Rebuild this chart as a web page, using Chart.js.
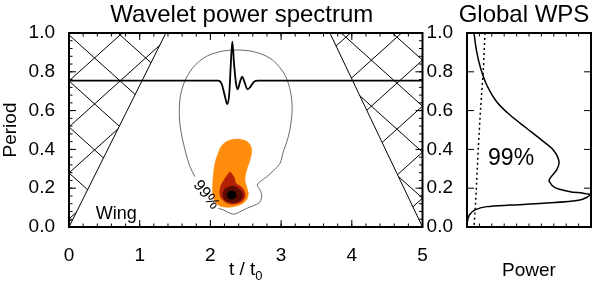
<!DOCTYPE html>
<html><head><meta charset="utf-8">
<script src="https://cdn.jsdelivr.net/npm/chart.js@4.4.1/dist/chart.umd.min.js"></script>
<style>
html,body{margin:0;padding:0;background:#fff;width:600px;height:283px;overflow:hidden}
#wps{position:absolute;left:0;top:0}
#glob{position:absolute;left:425px;top:0}
</style></head><body>
<canvas id="wps" width="440" height="283"></canvas>
<canvas id="glob" width="175" height="283"></canvas>
<script>
// ticks
const xTicks = [0, 1, 2, 3, 4, 5];
const yTicks = [0, 0.2, 0.4, 0.6, 0.8, 1.0];

// cone of influence edges (t, period)
const coiLeftT = [0, 1.37];
const coiLeftP = [0, 1.0];
const coiRightT = [3.69, 5];
const coiRightP = [1.0, 0];

// wavelet signal overlaid on the spectrum
const signalT = [0, 2.112, 2.160, 2.207, 2.239, 2.267, 2.287, 2.310, 2.334, 2.362, 2.386, 2.419, 2.451, 2.480, 2.527, 2.560, 2.617, 2.678, 5];
const signalV = [0.754, 0.754, 0.737, 0.672, 0.634, 0.689, 0.826, 0.955, 0.844, 0.741, 0.710, 0.749, 0.775, 0.749, 0.710, 0.720, 0.749, 0.754, 0.754];

// 99% significance contour (open where the label sits)
const contourT = [2.112, 2.183, 2.277, 2.348, 2.419, 2.513, 2.631, 2.702, 2.726, 2.702, 2.663, 2.702, 2.796, 2.890, 2.984, 3.031, 3.102, 3.150, 3.150, 3.102, 3.009, 2.843, 2.607, 2.372, 2.136, 1.900, 1.711, 1.594, 1.560, 1.580, 1.641, 1.711, 1.782];
const contourP = [0.096, 0.088, 0.071, 0.067, 0.079, 0.096, 0.113, 0.130, 0.165, 0.191, 0.216, 0.234, 0.259, 0.290, 0.328, 0.388, 0.465, 0.569, 0.655, 0.741, 0.809, 0.870, 0.904, 0.912, 0.904, 0.870, 0.801, 0.706, 0.603, 0.500, 0.397, 0.311, 0.259];

// filled power levels
const lvl1T = [2.136, 2.065, 2.033, 2.041, 2.112, 2.231, 2.372, 2.489, 2.536, 2.513, 2.489, 2.513, 2.560, 2.584, 2.536, 2.419, 2.277, 2.182, 2.136];
const lvl1P = [0.406, 0.329, 0.226, 0.156, 0.113, 0.102, 0.108, 0.130, 0.165, 0.208, 0.242, 0.294, 0.345, 0.397, 0.435, 0.452, 0.448, 0.428, 0.406];
const lvl2T = [2.277, 2.334, 2.362, 2.442, 2.489, 2.475, 2.395, 2.277, 2.183, 2.136, 2.145, 2.207, 2.277];
const lvl2P = [0.285, 0.259, 0.225, 0.205, 0.174, 0.143, 0.122, 0.119, 0.136, 0.165, 0.208, 0.251, 0.285];
const lvl3T = [2.207, 2.324, 2.419, 2.457, 2.419, 2.315, 2.207, 2.174, 2.207];
const lvl3P = [0.199, 0.211, 0.191, 0.165, 0.136, 0.125, 0.139, 0.170, 0.199];
const lvl4T = [2.30, 2.345, 2.36, 2.345, 2.30, 2.255, 2.24, 2.255, 2.30];
const lvl4P = [0.187, 0.181, 0.165, 0.149, 0.143, 0.149, 0.165, 0.181, 0.187];

// global wavelet power spectrum
const gwsPeriod = [1.0, 0.904, 0.818, 0.732, 0.646, 0.577, 0.509, 0.448, 0.397, 0.337, 0.294, 0.251, 0.234, 0.203, 0.182, 0.174, 0.165, 0.139, 0.122, 0.113, 0.105, 0.088, 0.062, 0.027, 0.0];
const gwsPower = [0.056, 0.078, 0.110, 0.159, 0.239, 0.347, 0.481, 0.602, 0.696, 0.742, 0.723, 0.669, 0.664, 0.710, 0.831, 0.938, 0.992, 0.911, 0.615, 0.347, 0.159, 0.065, 0.019, 0.003, 0.0];
const sigPeriod = [1.0, 0.818, 0.612, 0.406, 0.234, 0.079, 0.0];
const sigPower = [0.145, 0.132, 0.110, 0.091, 0.078, 0.065, 0.056];

const pts = (xs, ys) => xs.map((x, i) => ({ x, y: ys[i] }));
const FONT = "'Liberation Sans', Arial, Helvetica, sans-serif";

function drawFrame(chart, xMajor, xMinor, yMajor, yMinor) {
  const { ctx, chartArea: a, scales: { x, y } } = chart;
  ctx.save();
  ctx.strokeStyle = '#000';
  ctx.lineWidth = 1;
  ctx.beginPath();
  const xt = (v, len) => {
    const p = x.getPixelForValue(v);
    ctx.moveTo(p, a.bottom); ctx.lineTo(p, a.bottom - len);
    ctx.moveTo(p, a.top); ctx.lineTo(p, a.top + len);
  };
  const yt = (v, len) => {
    const p = y.getPixelForValue(v);
    ctx.moveTo(a.left, p); ctx.lineTo(a.left + len, p);
    ctx.moveTo(a.right, p); ctx.lineTo(a.right - len, p);
  };
  if (xMinor) for (let v = x.min; v <= x.max + 1e-9; v += xMinor) xt(v, 3.5);
  xMajor.forEach(v => xt(v, 7));
  if (yMinor) for (let v = y.min; v <= y.max + 1e-9; v += yMinor) yt(v, 3.5);
  yMajor.forEach(v => yt(v, 7));
  ctx.stroke();
  ctx.lineWidth = 2;
  ctx.strokeRect(a.left, a.top, a.right - a.left, a.bottom - a.top);
  ctx.restore();
}

function hatch(chart, polyT, polyP, anchorT, anchorP) {
  const { ctx, chartArea: a, scales: { x, y } } = chart;
  const gap = 46, slope = 0.9, w = a.right - a.left;
  const ax = x.getPixelForValue(anchorT), ay = y.getPixelForValue(anchorP);
  ctx.save();
  ctx.beginPath();
  polyT.forEach((t, i) => {
    const px = x.getPixelForValue(t), py = y.getPixelForValue(polyP[i]);
    i ? ctx.lineTo(px, py) : ctx.moveTo(px, py);
  });
  ctx.closePath();
  ctx.clip();
  ctx.beginPath();
  for (let k = -12; k <= 12; k++) {
    const y0 = ay + k * gap;
    ctx.moveTo(ax - w, y0 - slope * w); ctx.lineTo(ax + w, y0 + slope * w);
    ctx.moveTo(ax - w, y0 + slope * w); ctx.lineTo(ax + w, y0 - slope * w);
  }
  ctx.strokeStyle = '#000';
  ctx.lineWidth = 1;
  ctx.stroke();
  ctx.restore();
}

const wpsDecor = {
  id: 'wpsDecor',
  beforeDatasetsDraw(chart) {
    hatch(chart, [0, coiLeftT[1], 0], [0, 1, 1], 0, 0.99);
    hatch(chart, [coiRightT[0], 5, 5], [1, 1, 0], 5, 0.86);
  },
  afterDatasetsDraw(chart) {
    drawFrame(chart, xTicks, 0.2, yTicks, 0.04);
    const { ctx, chartArea: a, scales: { x, y } } = chart;
    ctx.save();
    ctx.fillStyle = '#000';
    ctx.textBaseline = 'alphabetic';
    ctx.textAlign = 'center';
    ctx.font = `24px ${FONT}`;
    ctx.fillText('Wavelet power spectrum', (a.left + a.right) / 2 - 4, 22);
    // x title with subscript
    ctx.font = `19px ${FONT}`;
    const main = 't / t';
    ctx.textAlign = 'left';
    const mw = ctx.measureText(main).width;
    ctx.font = `13px ${FONT}`;
    const sw = ctx.measureText('0').width;
    const sx = (a.left + a.right) / 2 - (mw + sw) / 2;
    ctx.font = `19px ${FONT}`;
    ctx.fillText(main, sx, 275);
    ctx.font = `13px ${FONT}`;
    ctx.fillText('0', sx + mw, 280);
    // y title
    ctx.font = `19px ${FONT}`;
    ctx.save();
    ctx.translate(11, (a.top + a.bottom) / 2);
    ctx.rotate(-Math.PI / 2);
    ctx.textAlign = 'center';
    ctx.textBaseline = 'middle';
    ctx.fillText('Period', 0, 0);
    ctx.restore();
    // annotations
    ctx.font = `18px ${FONT}`;
    ctx.textAlign = 'left';
    ctx.fillText('Wing', x.getPixelForValue(0.38), y.getPixelForValue(0.04));
    ctx.save();
    ctx.translate(x.getPixelForValue(1.94), y.getPixelForValue(0.165));
    ctx.rotate(52 * Math.PI / 180);
    ctx.font = `16px ${FONT}`;
    ctx.textAlign = 'center';
    ctx.textBaseline = 'middle';
    ctx.fillText('99%', 0, 0);
    ctx.restore();
    ctx.restore();
  }
};

const globDecor = {
  id: 'globDecor',
  afterDatasetsDraw(chart) {
    drawFrame(chart, [], 0.1, yTicks, 0);
    const { ctx, chartArea: a, scales: { x, y } } = chart;
    ctx.save();
    ctx.fillStyle = '#000';
    ctx.textAlign = 'center';
    ctx.textBaseline = 'alphabetic';
    ctx.font = `24px ${FONT}`;
    ctx.fillText('Global WPS', (a.left + a.right) / 2 - 5, 22);
    ctx.font = `19px ${FONT}`;
    ctx.fillText('Power', (a.left + a.right) / 2, 276);
    ctx.font = `23px ${FONT}`;
    ctx.textAlign = 'left';
    ctx.fillText('99%', x.getPixelForValue(0.17), y.getPixelForValue(0.32));
    ctx.restore();
  }
};

const tickFont = { family: FONT, size: 19 };
const periodAxis = (w) => ({
  min: 0, max: 1,
  grid: { display: false }, border: { display: false },
  afterBuildTicks: s => { s.ticks = yTicks.map(v => ({ value: v })); },
  afterFit: s => { s.width = w; },
  ticks: { color: '#000', font: tickFont, padding: 6, callback: v => v.toFixed(1) }
});

const line = (data, extra) => Object.assign({
  data, showLine: true, pointRadius: 0, borderColor: '#000', borderWidth: 1, fill: false, tension: 0
}, extra);
const blob = (data, color, order) => line(data, {
  backgroundColor: color, borderColor: color, borderWidth: 0.5, fill: 'shape', tension: 0.35, order
});

new Chart(document.getElementById('wps'), {
  type: 'scatter',
  data: {
    datasets: [
      line(pts(signalT, signalV), { borderWidth: 1.8, cubicInterpolationMode: 'monotone', order: 0 }),
      line(pts(contourT, contourP), { borderColor: '#444', borderWidth: 0.8, tension: 0.35, order: 1 }),
      blob(pts(lvl4T, lvl4P), '#000000', 2),
      blob(pts(lvl3T, lvl3P), '#5c0c02', 3),
      blob(pts(lvl2T, lvl2P), '#b52106', 4),
      blob(pts(lvl1T, lvl1P), '#ff8c0a', 5),
      line(pts(coiLeftT, coiLeftP), { order: 6 }),
      line(pts(coiRightT, coiRightP), { order: 6 })
    ]
  },
  options: {
    responsive: false, animation: false, devicePixelRatio: 1,
    layout: { padding: { top: 33, right: 17.5, left: 0, bottom: 0 } },
    plugins: { legend: { display: false }, tooltip: { enabled: false } },
    scales: {
      x: {
        type: 'linear', min: 0, max: 5,
        grid: { display: false }, border: { display: false },
        afterBuildTicks: s => { s.ticks = xTicks.map(v => ({ value: v })); },
        afterFit: s => { s.height = 56; },
        ticks: { color: '#000', font: tickFont, padding: 9, maxRotation: 0 }
      },
      y: periodAxis(69)
    }
  },
  plugins: [wpsDecor]
});

new Chart(document.getElementById('glob'), {
  type: 'scatter',
  data: {
    datasets: [
      line(pts(gwsPower, gwsPeriod), { borderWidth: 1.5, tension: 0.3 }),
      line(pts(sigPower, sigPeriod), { borderWidth: 1.5, borderDash: [2, 3], tension: 0.3 })
    ]
  },
  options: {
    responsive: false, animation: false, devicePixelRatio: 1,
    layout: { padding: { top: 33, right: 9, left: 0, bottom: 0 } },
    plugins: { legend: { display: false }, tooltip: { enabled: false } },
    scales: {
      x: {
        type: 'linear', min: 0, max: 1,
        grid: { display: false }, border: { display: false },
        afterFit: s => { s.height = 56; },
        ticks: { display: false }
      },
      y: periodAxis(42)
    }
  },
  plugins: [globDecor]
});
</script></body></html>
